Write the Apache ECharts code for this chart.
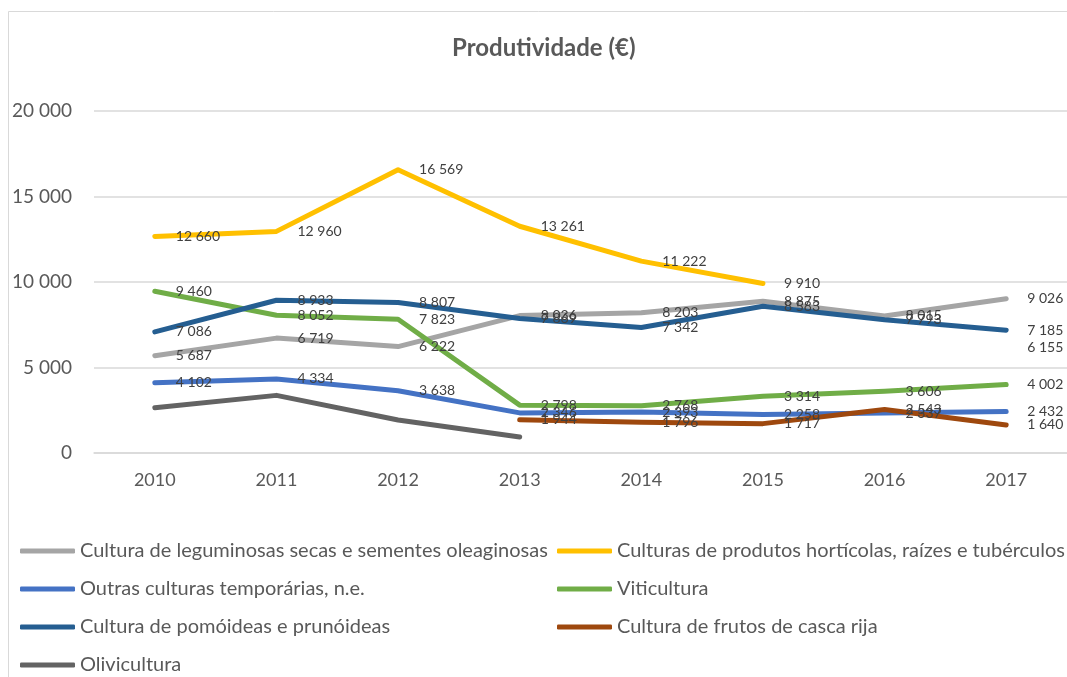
<!DOCTYPE html>
<html>
<head>
<meta charset="utf-8">
<title>Produtividade (€)</title>
<script src="https://cdn.jsdelivr.net/npm/echarts@6/dist/echarts.min.js"></script>
<style>
    html, body { margin: 0; padding: 0; background: #fff; }
    #chart { width: 1067px; height: 677px; }
</style>
</head>
<body>
<div id="chart"></div>
<script>
var anos = ['2010', '2011', '2012', '2013', '2014', '2015', '2016', '2017'];
var yTicks = [0, 5000, 10000, 15000, 20000];

var leguminosas = [5687, 6719, 6222, 8036, 8203, 8875, 8015, 9026];
var horticolas = [12660, 12960, 16569, 13261, 11222, 9910, null, 6155];
var outrasTemporarias = [4102, 4334, 3638, 2346, 2393, 2258, 2337, 2432];
var viticultura = [9460, 8052, 7823, 2798, 2768, 3314, 3606, 4002];
var pomoideas = [7086, 8933, 8807, 7869, 7342, 8583, 7793, 7185];
var frutosCasca = [null, null, null, 1944, 1796, 1717, 2543, 1640];
var olivicultura = [2650, 3370, 1930, 940, null, null, null, null];

var nomes = [
    'Cultura de leguminosas secas e sementes oleaginosas',
    'Culturas de produtos hortícolas, raízes e tubérculos',
    'Outras culturas temporárias, n.e.',
    'Viticultura',
    'Cultura de pomóideas e prunóideas',
    'Cultura de frutos de casca rija',
    'Olivicultura'
];
var cores = ['#A5A5A5', '#FFC000', '#4472C4', '#70AD47', '#255E91', '#9E480E', '#636363'];

var FONT = 'Lato';

function extend(a, b) {
    var o = {}, k;
    for (k in a) o[k] = a[k];
    for (k in b) o[k] = b[k];
    return o;
}

// 12660 -> "12 660"
function fmt(v) {
    return String(Math.round(v)).replace(/\B(?=(\d{3})+(?!\d))/g, ' ');
}

function linha(i, dados, comRotulo) {
    return {
        name: nomes[i],
        type: 'line',
        data: dados,
        color: cores[i],
        symbol: 'circle',
        symbolSize: 0,
        showSymbol: comRotulo,
        showAllSymbol: true,
        connectNulls: false,
        animation: false,
        lineStyle: { width: 5, color: cores[i], cap: 'round', join: 'round' },
        label: {
            show: comRotulo,
            position: 'right',
            distance: 21,
            color: '#404040',
            fontFamily: FONT,
            fontSize: 14,
            formatter: function (p) { return fmt(p.value); }
        },
        emphasis: { disabled: true }
    };
}

// legend rows sit 38px apart, split in blocks so nothing wraps
var legendaBase = {
    orient: 'vertical',
    icon: 'roundRect',
    itemWidth: 55,
    itemHeight: 5,
    itemGap: 16,
    top: 535,
    selectedMode: false,
    textStyle: { color: '#595959', fontFamily: FONT, fontSize: 20, lineHeight: 22 }
};

var option = {
    backgroundColor: '#fff',
    title: {
        text: 'Produtividade (€)',
        left: 447,
        top: 31,
        textStyle: { color: '#595959', fontFamily: FONT, fontSize: 24, fontWeight: 'bold' }
    },
    graphic: [{
        type: 'rect',
        shape: { x: 8.5, y: 11.5, width: 1200, height: 800 },
        style: { fill: 'none', stroke: '#d9d9d9', lineWidth: 1 },
        silent: true
    }],
    legend: [
        extend(legendaBase, { left: 15, data: [nomes[0], nomes[2], nomes[4]] }),
        extend(legendaBase, { left: 15, top: 649, data: [nomes[6]] }),
        extend(legendaBase, { left: 552, data: [nomes[1], nomes[3], nomes[5]] })
    ],
    grid: { left: 94, top: 111, width: 986, height: 342, containLabel: false },
    xAxis: {
        type: 'category',
        data: anos,
        boundaryGap: true,
        axisLine: { show: true, lineStyle: { color: '#d9d9d9', width: 1.5 } },
        axisTick: { show: false },
        axisLabel: { color: '#595959', fontFamily: FONT, fontSize: 18, margin: 18 }
    },
    yAxis: {
        type: 'value',
        min: yTicks[0],
        max: yTicks[yTicks.length - 1],
        interval: yTicks[1] - yTicks[0],
        axisLine: { show: false },
        axisTick: { show: false },
        splitLine: { lineStyle: { color: '#d9d9d9', width: 1.5 } },
        axisLabel: {
            color: '#595959', fontFamily: FONT, fontSize: 19, margin: 22,
            formatter: function (v) { return fmt(v); }
        }
    },
    series: [
        linha(0, leguminosas, true),
        linha(1, horticolas, true),
        linha(2, outrasTemporarias, true),
        linha(3, viticultura, true),
        linha(4, pomoideas, true),
        linha(5, frutosCasca, true),
        linha(6, olivicultura, false)
    ]
};

var chart = echarts.init(document.getElementById('chart'), null, { renderer: 'canvas' });
chart.setOption(option);
</script>
</body>
</html>
